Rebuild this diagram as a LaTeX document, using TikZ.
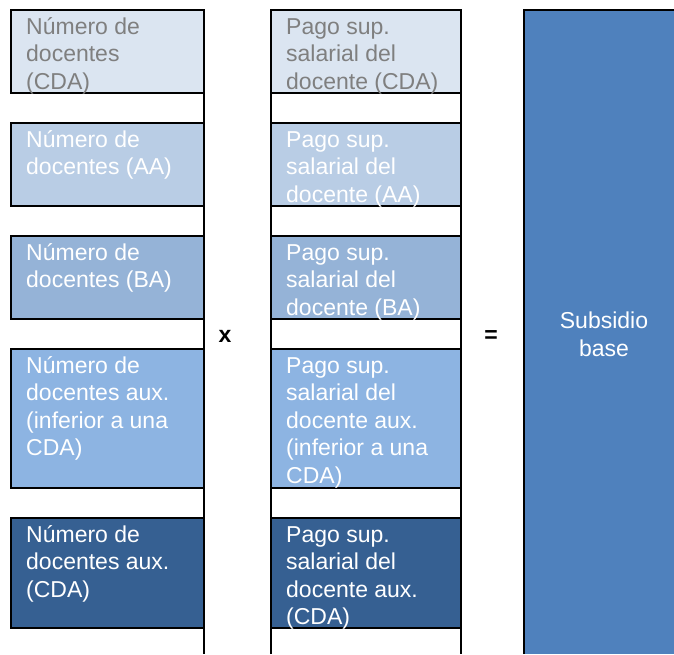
\documentclass[tikz,border=0pt]{standalone}
\usepackage{fontspec}
\setmainfont{Liberation Sans}
\definecolor{cA}{HTML}{DBE5F1}
\definecolor{cB}{HTML}{B9CDE5}
\definecolor{cC}{HTML}{95B3D7}
\definecolor{cD}{HTML}{8DB4E2}
\definecolor{cE}{HTML}{366092}
\definecolor{cBig}{HTML}{4F81BD}
\definecolor{tgray}{HTML}{7F7F7F}
\begin{document}
\begin{tikzpicture}[x=1pt,y=-1pt,
  edge/.style={draw=black,line width=2pt},
  lbl/.style={anchor=base west,inner sep=0pt,align=left,font=\fontsize{23}{27.5}\selectfont,text=white},
  op/.style={anchor=base,inner sep=0pt,font=\fontsize{23}{27.5}\selectfont\bfseries},
]
\useasboundingbox (0,0) rectangle (674,654);
% big result box
\fill[cBig] (524,10) rectangle (674,654);
\draw[edge] (524,654) -- (524,10) -- (674,10);
% left column boxes
\fill[cA] (11,10) rectangle (204,93);
\fill[cB] (11,123) rectangle (204,206);
\fill[cC] (11,236) rectangle (204,319);
\fill[cD] (11,349) rectangle (204,488);
\fill[cE] (11,518) rectangle (204,628);
\draw[edge] (11,10) rectangle (204,93);
\draw[edge] (11,123) rectangle (204,206);
\draw[edge] (11,236) rectangle (204,319);
\draw[edge] (11,349) rectangle (204,488);
\draw[edge] (11,518) rectangle (204,628);
\draw[edge] (204,10) -- (204,654);
% middle column boxes
\fill[cA] (271,10) rectangle (461,93);
\fill[cB] (271,123) rectangle (461,206);
\fill[cC] (271,236) rectangle (461,319);
\fill[cD] (271,349) rectangle (461,488);
\fill[cE] (271,518) rectangle (461,628);
\draw[edge] (271,654) -- (271,10) -- (461,10) -- (461,654);
\foreach \yy in {93,123,206,236,319,349,488,518,628}
  \draw[edge] (271,\yy) -- (461,\yy);
% left texts (anchor = baseline of last line)
\node[lbl,text=tgray] (n1) at (26,89) {Número de\\docentes\\(CDA)};
\node[lbl] (n2) at (26,174.5) {Número de\\docentes (AA)};
\node[lbl] (n3) at (26,287.5) {Número de\\docentes (BA)};
\node[lbl] (n4) at (26,455.5) {Número de\\docentes aux.\\(inferior a una\\CDA)};
\node[lbl] (n5) at (26,597) {Número de\\docentes aux.\\(CDA)};
% middle texts
\node[lbl,text=tgray] (p1) at (286,89) {Pago sup.\\salarial del\\docente (CDA)};
\node[lbl] (p2) at (286,202) {Pago sup.\\salarial del\\docente (AA)};
\node[lbl] (p3) at (286,315) {Pago sup.\\salarial del\\docente (BA)};
\node[lbl] (p4) at (286,483) {Pago sup.\\salarial del\\docente aux.\\(inferior a una\\CDA)};
\node[lbl] (p5) at (286,624.5) {Pago sup.\\salarial del\\docente aux.\\(CDA)};
% operators
\node[op] (times) at (225,342) {x};
\node[op] (eq) at (491,342) {=};
% result
\node[anchor=base,inner sep=0pt,align=center,font=\fontsize{23}{27.5}\selectfont,text=white] (res) at (604,356) {Subsidio\\base};
\end{tikzpicture}
\end{document}
